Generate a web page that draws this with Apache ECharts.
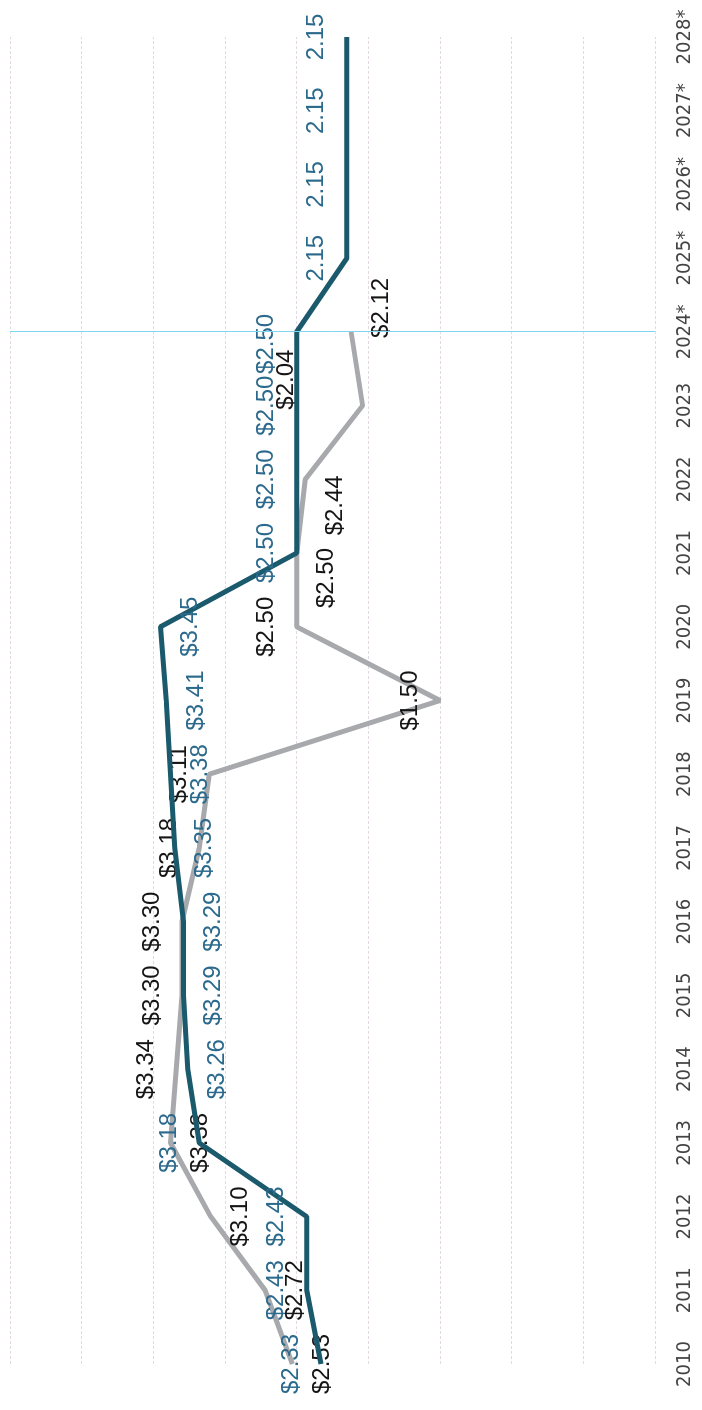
<!DOCTYPE html>
<html>
<head>
<meta charset="utf-8">
<script src="https://cdn.jsdelivr.net/npm/echarts@6/dist/echarts.min.js"></script>
<style>
  html, body { margin: 0; padding: 0; background: #fff; overflow: hidden; }
  #wrap { position: absolute; left: 0; top: 0; width: 702px; height: 1410px; overflow: hidden; }
  #chart { position: absolute; left: 0; top: 0; width: 1410px; height: 702px;
           transform-origin: 0 0; transform: translateY(1410px) rotate(-90deg); }
</style>
</head>
<body>
<div id="wrap"><div id="chart"></div></div>
<script>
// ---- data ----
const years = ['2010','2011','2012','2013','2014','2015','2016','2017','2018','2019',
               '2020','2021','2022','2023','2024*','2025*','2026*','2027*','2028*'];
const seriesA = [2.33, 2.43, 2.43, 3.18, 3.26, 3.29, 3.29, 3.35, 3.38, 3.41,
                 3.45, 2.50, 2.50, 2.50, 2.50, 2.15, 2.15, 2.15, 2.15];
const seriesB = [2.53, 2.72, 3.10, 3.38, 3.34, 3.30, 3.30, 3.18, 3.11, 1.50,
                 2.50, 2.50, 2.44, 2.04, 2.12, null, null, null, null];
const plainLabelYears = ['2025*','2026*','2027*','2028*'];
const valueTicks = { min: 0, max: 4.5, interval: 0.5 };

// ---- label placement (style only) ----
const aBelow = new Set(['2014','2015','2016','2017','2018','2019','2020']);
const bAbove = new Set(['2014','2015','2016','2017','2018','2019','2020','2023']);
const aExtra = { '2024*': { offset: [-12, 0] } };
const bExtra = { '2023': { distance: 64, offset: [26, 0] }, '2021': { offset: [-25, 0] },
                 '2022': { offset: [-26, 0] }, '2024*': { offset: [24, 0] } };

function fmt(year, v) {
  return plainLabelYears.indexOf(year) >= 0 ? v.toFixed(2) : '$' + v.toFixed(2);
}

const dataA = seriesA.map((v, i) => {
  const ex = aExtra[years[i]] || {};
  return {
    value: v,
    label: Object.assign({ position: aBelow.has(years[i]) ? 'bottom' : 'top' }, ex)
  };
});
const dataB = seriesB.map((v, i) => {
  const ex = bExtra[years[i]] || {};
  return {
    value: v,
    label: Object.assign({ position: bAbove.has(years[i]) ? 'top' : 'bottom' }, ex)
  };
});

const chart = echarts.init(document.getElementById('chart'), null, { renderer: 'canvas' });
chart.setOption({
  animation: false,
  backgroundColor: '#ffffff',
  grid: { left: 46, right: 37, top: 10, bottom: 47 },
  xAxis: {
    type: 'category',
    data: years,
    boundaryGap: false,
    axisLine: { show: false },
    axisTick: { show: false },
    splitLine: { show: false },
    axisLabel: { fontSize: 20, color: '#444', margin: 20, fontFamily: '"Liberation Sans Narrow", "DejaVu Sans Condensed", sans-serif' }
  },
  yAxis: {
    type: 'value',
    min: valueTicks.min, max: valueTicks.max, interval: valueTicks.interval,
    axisLine: { show: false },
    axisTick: { show: false },
    axisLabel: { show: false },
    splitLine: { show: true, lineStyle: { color: '#e2d9e2', width: 1, type: [3, 2] } }
  },
  series: [
    {
      name: 'B', type: 'line', data: dataB,
      symbol: 'circle', symbolSize: 0, showSymbol: true,
      lineStyle: { color: '#a7a9ad', width: 5 },
      itemStyle: { color: '#a7a9ad' },
      label: { show: true, distance: 18, fontSize: 24, color: '#151515',
               fontFamily: '"Liberation Sans", Arial, sans-serif',
               formatter: p => fmt(years[p.dataIndex], p.value) },
      z: 2
    },
    {
      name: 'A', type: 'line', data: dataA,
      symbol: 'circle', symbolSize: 0, showSymbol: true,
      lineStyle: { color: '#1b5a6c', width: 5 },
      itemStyle: { color: '#1b5a6c' },
      label: { show: true, distance: 18, fontSize: 24, color: '#2c6a8d',
               fontFamily: '"Liberation Sans", Arial, sans-serif',
               formatter: p => fmt(years[p.dataIndex], p.value) },
      markLine: {
        silent: true, symbol: 'none', label: { show: false },
        lineStyle: { color: '#7fd6f2', width: 1, type: 'solid', opacity: 1 },
        emphasis: { disabled: true },
        data: [{ xAxis: '2024*' }]
      },
      z: 3
    }
  ]
});
</script>
</body>
</html>
